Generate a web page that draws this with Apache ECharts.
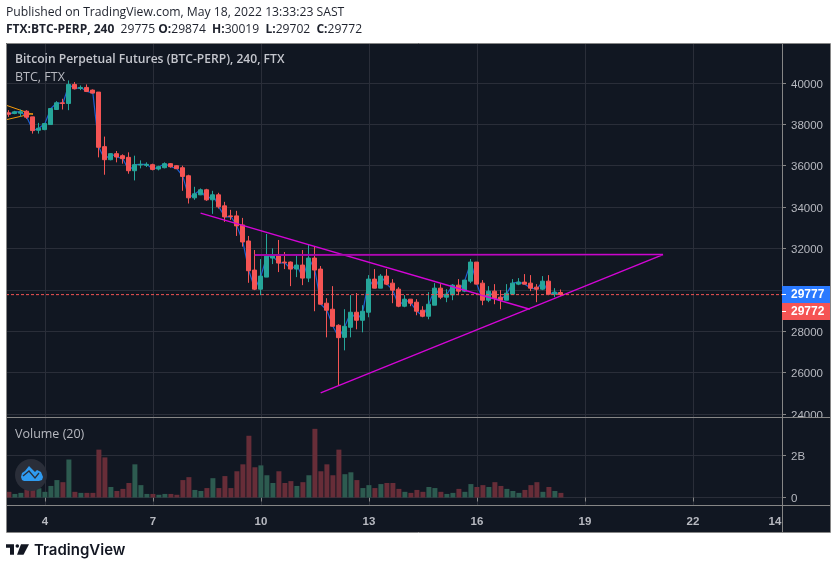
<!DOCTYPE html>
<html>
<head>
<meta charset="utf-8">
<style>html,body{margin:0;padding:0;background:#fff}#c{width:837px;height:569px}</style>
<script src="https://cdn.jsdelivr.net/npm/echarts@6/dist/echarts.min.js"></script>
</head>
<body>
<div id="c"></div>
<script>
const firstDay = 3;                 // candle 0 sits on day 3, one candle every 4 hours
const candlesPerDay = 6;
const opens = [38554,38521,38538,38635,38360,37713,37746,37988,38715,39039,39006,39927,39733,39782,39653,39556,36922,36291,36582,36485,36404,35758,36033,36017,36049,35839,35904,36098,36001,35903,35515,34449,34594,34837,34352,34594,34061,33576,33576,33139,32364,30958,30036,30618,31539,31669,31345,31345,31006,31200,30570,31539,31006,29358,29067,28291,27709,28194,28921,28534,28921,30521,30085,30667,30327,30036,29212,29552,29406,29018,28728,29261,30085,29649,29762,30230,29940,30424,31345,30327,29503,29940,29649,29503,29794,30279,30376,30327,30133,30036,30424,29794,29874];
const closes = [38489,38602,38602,38344,37697,37810,38037,38764,39039,39006,39927,39717,39782,39588,39507,36889,36291,36582,36421,36340,35758,36049,36065,36065,35823,35952,36098,35952,35855,35483,34449,34643,34837,34352,34594,34013,33528,33544,33092,32315,30925,30036,30667,31636,31636,31297,31313,31006,31200,30570,31539,30958,29309,29018,28243,27693,28243,28921,28534,28970,30521,30085,30667,30279,29988,29212,29552,29358,28970,28728,29309,30085,29649,29794,30230,29940,30473,31345,30279,29503,29940,29600,29503,29843,30327,30376,30279,30085,30036,30424,29794,29891,29772];
const highs = [38683,38651,38715,38683,38360,38069,38037,38764,39119,39233,40121,40041,39879,39927,39685,39556,37406,36582,36712,36550,36647,36485,36259,36162,36098,36001,36162,36130,36033,36000,35564,34982,34901,34885,34788,34691,34255,33867,33819,33479,32606,31927,31491,32703,32008,32412,31830,31378,31733,31927,32202,32089,31152,29600,30182,28340,29067,29746,29843,29261,30715,31006,30764,31006,30521,30133,29746,29552,29552,29212,29891,30327,30279,30036,30279,30521,30473,31491,31345,30473,30182,30279,29988,30279,30521,30570,30764,30715,30279,30667,30715,30085,30019];
const lows = [38360,38489,38360,38263,37552,37552,37713,37988,38715,38715,38683,39685,39653,39556,39491,36404,35564,36259,36162,36098,35613,35289,35871,35936,35774,35774,35871,35904,35839,34788,34174,34352,34578,34303,33673,33932,33285,33382,32607,32089,30344,29988,29746,30618,31248,30861,31006,30182,30618,30230,30376,28970,29309,27709,28243,25382,27079,27709,28097,27952,28679,30085,30085,30230,29358,29164,29164,29212,28776,28679,28582,29261,29552,29406,29503,29746,29891,30327,30279,29261,29406,29309,29067,29503,29794,30230,30279,29940,29406,29988,29746,29649,29702];
const volumesB = [.27,.17,.22,.39,.39,.44,.27,.55,.83,.73,1.81,.27,.22,.22,.22,2.28,1.91,.5,.31,.41,.69,1.58,.59,.17,.17,.13,.17,.17,.13,.83,.97,.36,.31,.45,.92,.45,1.02,.45,1.25,1.58,2.94,1.44,1.53,1.06,.69,1.25,.69,.78,.55,.73,1.06,3.27,1.25,1.58,1.06,2.28,1.11,1.2,.83,.45,.59,.45,.64,.69,.69,.41,.27,.22,.36,.27,.5,.45,.27,.17,.22,.41,.27,.64,.5,.59,.5,.73,.55,.41,.31,.22,.36,.59,.73,.27,.5,.31,.22];

const priceTicks = [24000,26000,28000,30000,32000,34000,36000,38000,40000];
const volumeTicks = [0,2];
const dayTicks = [4,7,10,13,16,19,22];
const dayLabelPositions = [4,7,10,13,16,19,22,24.28];
const dayLabelTexts = ['4','7','10','13','16','19','22','14'];

const lastClose = 29772;
const trendDown = [[8.325,33706],[17.47,29067]];
const trendFlat = [[9.83,31685],[21.17,31709]];
const trendUp = [[11.66,25028],[21.17,31709]];
const orangeUpper = [[2.944,38909],[3.667,38473]];
const orangeLower = [[2.944,38230],[3.667,38521]];

const UP = '#26a69a', DOWN = '#f55454', VOL_UP = '#2d5b50', VOL_DOWN = '#672d38';
const BG = '#111722', FRAME = '#868686', GRID = '#2a2e39', TEXT = '#b7b9c0';
const MAGENTA = '#d405d6';
const FONT = '"Open Sans",sans-serif';
const AXISFONT = '"Liberation Sans",Arial,sans-serif';

const X_MIN = 2.9195, X_MAX = 24.475;
const xOf = i => firstDay + i / candlesPerDay;
const candles = opens.map((o, i) => [xOf(i), o, closes[i], lows[i], highs[i]]);
const closeLine = closes.map((c, i) => [xOf(i), c]);
const vols = volumesB.map((v, i) => ({
  value: [xOf(i), v],
  itemStyle: { color: closes[i] >= opens[i] ? VOL_UP : VOL_DOWN }
}));

const lineSeries = (data, color, width, z, extra) => Object.assign({
  type: 'line', data, showSymbol: false, symbol: 'none', silent: true, z,
  lineStyle: { color, width }, xAxisIndex: 0, yAxisIndex: 0
}, extra || {});

const xAxisBase = (idx, showLabel) => ({
  type: 'value', gridIndex: idx, min: X_MIN, max: X_MAX,
  axisLine: { show: false },
  axisTick: { show: showLabel, length: 4, lineStyle: { color: FRAME }, customValues: dayTicks },
  splitLine: { show: true, lineStyle: { color: GRID, width: 1 } },
  axisLabel: showLabel ? {
    show: true, customValues: dayLabelPositions, margin: 11,
    color: TEXT, fontFamily: AXISFONT, fontSize: 11.5, fontWeight: 'bold',
    hideOverlap: false, showMinLabel: true, showMaxLabel: true,
    formatter: v => dayLabelTexts[dayLabelPositions.indexOf(v)]
  } : { show: false }
});
const yAxisBase = (idx, min, max, ticks, fmt, shift) => ({
  type: 'value', gridIndex: idx, position: 'right', min, max, scale: true,
  axisLine: { show: false },
  axisTick: { show: true, length: 4, lineStyle: { color: FRAME }, customValues: ticks },
  splitLine: { show: true, lineStyle: { color: GRID, width: 1 } },
  axisLabel: {
    show: true, customValues: ticks, margin: 9, color: TEXT,
    hideOverlap: false,
    formatter: v => '{s| }\n{t|' + fmt(v) + '}',
    rich: {
      s: { fontSize: 1, lineHeight: shift },
      t: { color: TEXT, fontFamily: AXISFONT, fontSize: 11.5, lineHeight: 13 }
    }
  }
});

const txt = (x, y, text, fontSize, fill, extra) => ({
  type: 'text', x, y, z: 100, silent: true,
  style: Object.assign({ text, fontSize, fill, fontFamily: FONT, verticalAlign: 'middle', align: 'left' }, extra || {})
});
const rect = (x, y, w, h, fill, z) => ({
  type: 'rect', shape: { x, y, width: w, height: h }, z, silent: true, style: { fill }
});
const poly = (points, fill, z) => ({
  type: 'polygon', shape: { points }, z, silent: true, style: { fill }
});

const graphic = [
  rect(6, 43, 824, 489, BG, -10),
  { type: 'rect', shape: { x: 6.5, y: 43.5, width: 824, height: 489 }, z: 90, silent: true, style: { fill: 'none', stroke: FRAME, lineWidth: 1 } },
  rect(783, 418, 47, 5, BG, 88),
  rect(6, 417, 824, 1, FRAME, 90),
  rect(6, 505, 824, 1, FRAME, 90),
  rect(782, 43, 1, 489, FRAME, 90),
  rect(782, 286, 48, 17, '#2979ff', 95),
  rect(782, 303, 48, 17, '#f55454', 95),
  rect(782, 294, 4, 1, '#fff', 96),
  rect(782, 311, 4, 1, '#fff', 96),
  txt(791, 295, '29777', 12, '#fff', { fontFamily: AXISFONT, fontWeight: 'bold' }),
  txt(791, 312, '29772', 12, '#fff', { fontFamily: AXISFONT, fontWeight: 'bold' }),
  txt(6, 13, 'Published on TradingView.com, May 18, 2022 13:33:23 SAST', 12.2, '#1e222d'),
  txt(6, 30, '{b|FTX:BTC-PERP, 240}  {n|29775} {b|O:}{n|29874}  {b|H:}{n|30019}  {b|L:}{n|29702}  {b|C:}{n|29772}', 12, '#1e222d', {
    rich: {
      b: { fontFamily: FONT, fontSize: 12, fontWeight: 'bold', fill: '#1e222d' },
      n: { fontFamily: FONT, fontSize: 12.1, fill: '#1e222d' }
    }
  }),
  txt(15, 60, 'Bitcoin Perpetual Futures (BTC-PERP), 240, FTX', 12.1, '#c4c6cd', { fontWeight: 600 }),
  txt(15, 77, 'BTC, FTX', 12.5, '#b7b9c0'),
  txt(15, 434, 'Volume (20)', 12.5, '#b7b9c0'),
  { type: 'circle', shape: { cx: 31, cy: 475, r: 16 }, z: 60, silent: true, style: { fill: '#2a2e39' } },
  poly([[21,477],[22,473],[25,471],[29,466],[35,472],[37,470],[41,472],[43,477],[42,480],[39,481],[24,481],[22,480]], '#2f9bf0', 61),
  { type: 'polyline', z: 62, silent: true,
    shape: { points: [[23, 476], [29, 471], [35, 478], [39, 473]] },
    style: { stroke: '#2a2e39', lineWidth: 1.3, fill: 'none' } },
  poly([[6,544.3],[14,544.3],[14,554.7],[10,554.7],[10,547.8],[6,547.8]], '#131722', 70),
  { type: 'circle', shape: { cx: 17.3, cy: 546, r: 1.8 }, z: 70, silent: true, style: { fill: '#131722' } },
  poly([[21,544.3],[29,544.3],[23.5,554.7],[17,554.7]], '#131722', 70),
  txt(34, 550, 'TradingView', 15, '#131722', { fontFamily: 'Inter,"Noto Sans",sans-serif', fontWeight: 600 })
];

const option = {
  animation: false,
  backgroundColor: '#ffffff',
  graphic: { elements: graphic },
  grid: [
    { left: 6, width: 776, top: 44, height: 373, containLabel: false },
    { left: 6, width: 776, top: 418, height: 87, containLabel: false }
  ],
  xAxis: [xAxisBase(0, false), xAxisBase(1, true)],
  yAxis: [
    yAxisBase(0, 23860, 41880, priceTicks, v => String(v), 3),
    yAxisBase(1, -0.357, 3.786, volumeTicks, v => v === 0 ? '0' : v + 'B', 2)
  ],
  series: [
    lineSeries(closeLine, '#1f5fd0', 1.2, 1),
    lineSeries(orangeUpper, '#f59a0c', 1, 1),
    lineSeries(orangeLower, '#f59a0c', 1, 1),
    {
      type: 'candlestick', data: candles, xAxisIndex: 0, yAxisIndex: 0, barWidth: 4.5, z: 2, silent: true,
      itemStyle: { color: UP, color0: DOWN, borderColor: UP, borderColor0: DOWN, borderWidth: 1, borderJoin: 'miter' }
    },
    lineSeries(trendDown, MAGENTA, 1.4, 3),
    lineSeries(trendUp, MAGENTA, 1.4, 3),
    lineSeries(trendFlat, '#6f0f78', 2, 3),
    lineSeries(trendFlat, MAGENTA, 1, 3),
    lineSeries([[X_MIN, lastClose], [X_MAX, lastClose]], DOWN, 1, 4, {
      lineStyle: { color: DOWN, width: 1, type: [3, 2] }
    }),
    { type: 'bar', data: vols, xAxisIndex: 1, yAxisIndex: 1, barWidth: 5, z: 2, silent: true }
  ]
};
const chart = echarts.init(document.getElementById('c'), null, { renderer: 'canvas' });
chart.setOption(option);
</script>
</body>
</html>
